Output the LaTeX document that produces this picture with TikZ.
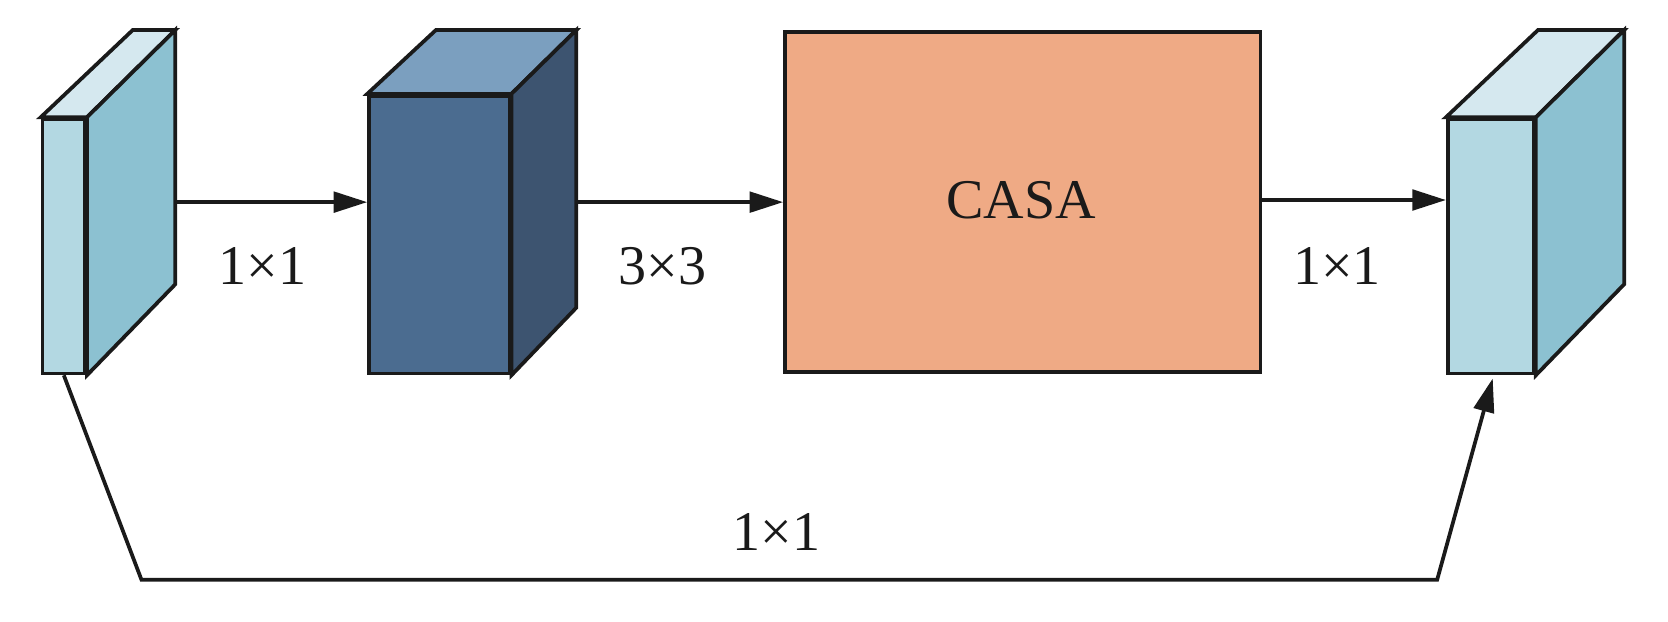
\documentclass[tikz,border=0pt]{standalone}
\usepackage{fontspec}
\setmainfont{Liberation Serif}
\usetikzlibrary{arrows.meta,calc,fit}
\definecolor{lbfront}{HTML}{B3D8E2}
\definecolor{lbside}{HTML}{8CC1D1}
\definecolor{lbtop}{HTML}{D5E8EF}
\definecolor{dbfront}{HTML}{4B6C90}
\definecolor{dbside}{HTML}{3D5470}
\definecolor{dbtop}{HTML}{7B9FBF}
\definecolor{casafill}{HTML}{EFAA85}
\definecolor{ink}{HTML}{1A1A1A}
\begin{document}
\begin{tikzpicture}[x=0.1mm,y=-0.1mm,
  line width=1pt, line join=miter,
  face/.style={draw=ink, inner sep=0pt},
  arr/.style={draw=ink, -{Triangle[length=9pt,width=5.5pt]}},
  lbl/.style={font=\fontsize{15}{17}\selectfont, text=ink, inner sep=0pt}]
\useasboundingbox (0,0) rectangle (1568,584);
% left block
\node[face, fill=lbfront, fit={(40,112)(80,351)}] (inF) {};
\draw[draw=ink, fill=lbtop] (inF.north west) -- (inF.north east) -- ++(83,-82) -- ++(-40,0) -- cycle;
\draw[draw=ink, fill=lbside] (inF.north east) -- ++(83,-82) coordinate (inB) -- ++(0,239) -- (inF.south east) -- cycle;
% blue block
\node[face, fill=dbfront, fit={(347,90)(479,351)}] (blueF) {};
\draw[draw=ink, fill=dbtop] (blueF.north west) -- (blueF.north east) -- ++(61,-60) -- ++(-132,0) -- cycle;
\draw[draw=ink, fill=dbside] (blueF.north east) -- ++(61,-60) coordinate (blueB) -- ++(0,261) -- (blueF.south east) -- cycle;
% CASA
\node[face, fill=casafill, fit={(738,30)(1185,350)}] (casa) {};
\node[lbl] (casaT) at (960,188) {CASA};
% right block
\node[face, fill=lbfront, fit={(1361,112)(1442,351)}] (outF) {};
\draw[draw=ink, fill=lbtop] (outF.north west) -- (outF.north east) -- ++(83,-82) -- ++(-81,0) -- cycle;
\draw[draw=ink, fill=lbside] (outF.north east) -- ++(83,-82) coordinate (outB) -- ++(0,239) -- (outF.south east) -- cycle;
% connectors
\coordinate (s1) at (inB |- 0,190);
\coordinate (s2) at (blueB |- 0,190);
\coordinate (s3) at (casa.east |- 0,188);
\draw[arr] (s1) -- (s1 -| blueF.west);
\draw[arr] (s2) -- (s2 -| casa.west);
\draw[arr] (s3) -- (s3 -| outF.west);
\coordinate (b1) at (133,545);
\coordinate (b2) at (1351,545);
\coordinate (bend) at ($(outF.south west)+(44,3)$);
\draw[arr] (inF.south) -- (b1) -- (b2) -- (bend);
% labels
\node[lbl] (l1) at (247,250) {1×1};
\node[lbl] (l2) at (623,250) {3×3};
\node[lbl] (l3) at (1257,250) {1×1};
\node[lbl] (l4) at (730,500) {1×1};
\end{tikzpicture}
\end{document}
